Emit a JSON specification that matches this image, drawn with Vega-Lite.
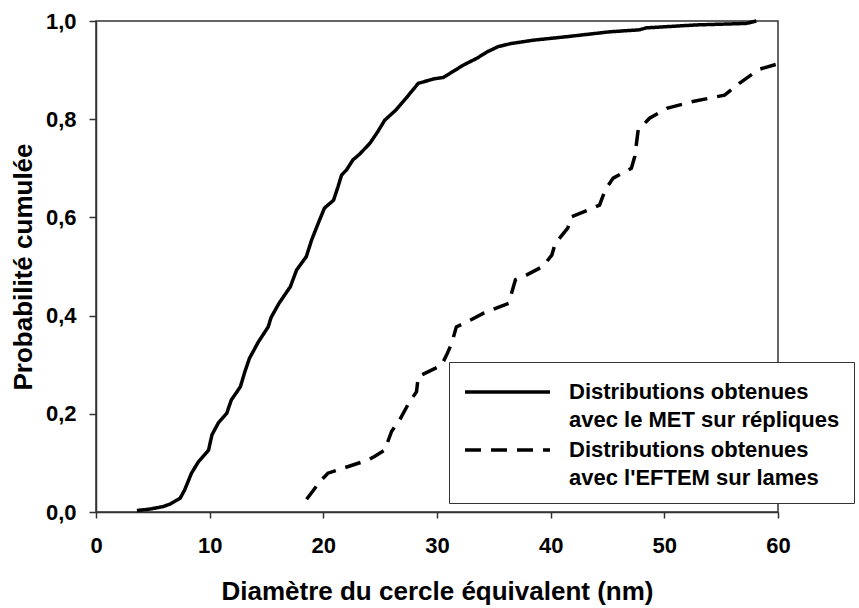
{
  "$schema": "https://vega.github.io/schema/vega-lite/v6.json",
  "width": 682,
  "height": 491,
  "autosize": {"type": "none"},
  "padding": {"left": 96, "top": 21, "right": 81, "bottom": 96},
  "background": "white",
  "config": {
    "font": "Liberation Sans",
    "view": {"stroke": "#333", "strokeWidth": 1.5}
  },
  "data": {
    "values": [
      {"serie": "MET", "x": 3.6, "y": 0.003},
      {"serie": "MET", "x": 4.75, "y": 0.006},
      {"serie": "MET", "x": 5.9, "y": 0.011},
      {"serie": "MET", "x": 6.5, "y": 0.016},
      {"serie": "MET", "x": 7.4, "y": 0.028},
      {"serie": "MET", "x": 7.8, "y": 0.045},
      {"serie": "MET", "x": 8.4, "y": 0.079},
      {"serie": "MET", "x": 9.0, "y": 0.102},
      {"serie": "MET", "x": 9.9, "y": 0.126},
      {"serie": "MET", "x": 10.2, "y": 0.157},
      {"serie": "MET", "x": 10.75, "y": 0.181},
      {"serie": "MET", "x": 11.5, "y": 0.201},
      {"serie": "MET", "x": 11.9, "y": 0.228},
      {"serie": "MET", "x": 12.7, "y": 0.255},
      {"serie": "MET", "x": 13.1, "y": 0.286},
      {"serie": "MET", "x": 13.5, "y": 0.313},
      {"serie": "MET", "x": 14.3, "y": 0.347},
      {"serie": "MET", "x": 15.15, "y": 0.377},
      {"serie": "MET", "x": 15.4, "y": 0.396},
      {"serie": "MET", "x": 16.1, "y": 0.425},
      {"serie": "MET", "x": 17.1, "y": 0.459},
      {"serie": "MET", "x": 17.65, "y": 0.493},
      {"serie": "MET", "x": 18.5, "y": 0.52},
      {"serie": "MET", "x": 18.97, "y": 0.554},
      {"serie": "MET", "x": 19.55, "y": 0.588},
      {"serie": "MET", "x": 20.1, "y": 0.619},
      {"serie": "MET", "x": 20.9, "y": 0.635},
      {"serie": "MET", "x": 21.3, "y": 0.663},
      {"serie": "MET", "x": 21.6, "y": 0.686},
      {"serie": "MET", "x": 22.05, "y": 0.697},
      {"serie": "MET", "x": 22.6, "y": 0.717},
      {"serie": "MET", "x": 23.2, "y": 0.729},
      {"serie": "MET", "x": 24.1, "y": 0.751},
      {"serie": "MET", "x": 24.8, "y": 0.775},
      {"serie": "MET", "x": 25.4, "y": 0.798},
      {"serie": "MET", "x": 26.4, "y": 0.819},
      {"serie": "MET", "x": 27.5, "y": 0.849},
      {"serie": "MET", "x": 28.35, "y": 0.873},
      {"serie": "MET", "x": 29.7, "y": 0.882},
      {"serie": "MET", "x": 30.55, "y": 0.885},
      {"serie": "MET", "x": 31.4, "y": 0.897},
      {"serie": "MET", "x": 32.3, "y": 0.91},
      {"serie": "MET", "x": 33.5, "y": 0.924},
      {"serie": "MET", "x": 34.4, "y": 0.937},
      {"serie": "MET", "x": 35.4, "y": 0.948},
      {"serie": "MET", "x": 36.5, "y": 0.954},
      {"serie": "MET", "x": 38.5, "y": 0.961},
      {"serie": "MET", "x": 41.4, "y": 0.968},
      {"serie": "MET", "x": 45.2, "y": 0.978},
      {"serie": "MET", "x": 47.8, "y": 0.982},
      {"serie": "MET", "x": 48.4, "y": 0.986},
      {"serie": "MET", "x": 52.8, "y": 0.992},
      {"serie": "MET", "x": 57.2, "y": 0.995},
      {"serie": "MET", "x": 58.1, "y": 1.0},
      {"serie": "EFTEM", "x": 18.53, "y": 0.026},
      {"serie": "EFTEM", "x": 19.7, "y": 0.062},
      {"serie": "EFTEM", "x": 20.4, "y": 0.079},
      {"serie": "EFTEM", "x": 23.95, "y": 0.106},
      {"serie": "EFTEM", "x": 24.5, "y": 0.113},
      {"serie": "EFTEM", "x": 25.4, "y": 0.126},
      {"serie": "EFTEM", "x": 26.0, "y": 0.164},
      {"serie": "EFTEM", "x": 26.7, "y": 0.187},
      {"serie": "EFTEM", "x": 27.5, "y": 0.221},
      {"serie": "EFTEM", "x": 28.2, "y": 0.245},
      {"serie": "EFTEM", "x": 28.35, "y": 0.276},
      {"serie": "EFTEM", "x": 29.7, "y": 0.291},
      {"serie": "EFTEM", "x": 30.4, "y": 0.299},
      {"serie": "EFTEM", "x": 30.85, "y": 0.32},
      {"serie": "EFTEM", "x": 31.3, "y": 0.344},
      {"serie": "EFTEM", "x": 31.7, "y": 0.377},
      {"serie": "EFTEM", "x": 32.7, "y": 0.388},
      {"serie": "EFTEM", "x": 34.1, "y": 0.405},
      {"serie": "EFTEM", "x": 35.5, "y": 0.418},
      {"serie": "EFTEM", "x": 36.3, "y": 0.425},
      {"serie": "EFTEM", "x": 36.9, "y": 0.473},
      {"serie": "EFTEM", "x": 37.9, "y": 0.483},
      {"serie": "EFTEM", "x": 39.3, "y": 0.5},
      {"serie": "EFTEM", "x": 40.1, "y": 0.523},
      {"serie": "EFTEM", "x": 40.4, "y": 0.547},
      {"serie": "EFTEM", "x": 41.5, "y": 0.578},
      {"serie": "EFTEM", "x": 41.8, "y": 0.601},
      {"serie": "EFTEM", "x": 43.3, "y": 0.615},
      {"serie": "EFTEM", "x": 44.3, "y": 0.625},
      {"serie": "EFTEM", "x": 44.8, "y": 0.656},
      {"serie": "EFTEM", "x": 45.5, "y": 0.68},
      {"serie": "EFTEM", "x": 47.1, "y": 0.7},
      {"serie": "EFTEM", "x": 47.4, "y": 0.724},
      {"serie": "EFTEM", "x": 47.7, "y": 0.778},
      {"serie": "EFTEM", "x": 48.7, "y": 0.802},
      {"serie": "EFTEM", "x": 50.2, "y": 0.822},
      {"serie": "EFTEM", "x": 52.5, "y": 0.836},
      {"serie": "EFTEM", "x": 55.3, "y": 0.849},
      {"serie": "EFTEM", "x": 56.6, "y": 0.873},
      {"serie": "EFTEM", "x": 57.8, "y": 0.893},
      {"serie": "EFTEM", "x": 58.4, "y": 0.902},
      {"serie": "EFTEM", "x": 59.9, "y": 0.912}
    ]
  },
  "mark": {"type": "line", "color": "black", "strokeWidth": 3.5, "clip": false},
  "encoding": {
    "x": {
      "field": "x",
      "type": "quantitative",
      "scale": {"domain": [0, 60], "nice": false, "zero": false},
      "axis": {
        "values": [0, 10, 20, 30, 40, 50, 60],
        "grid": false,
        "domainColor": "#333",
        "domainWidth": 1.5,
        "tickColor": "#333",
        "tickWidth": 1.5,
        "tickSize": 6,
        "labelFontSize": 22,
        "labelFontWeight": "bold",
        "labelColor": "black",
        "labelPadding": 17,
        "labelFlush": false,
        "labelOverlap": false,
        "title": "Diamètre du cercle équivalent (nm)",
        "titleFontSize": 26,
        "titleFontWeight": "bold",
        "titleColor": "black",
        "titlePadding": 22
      }
    },
    "y": {
      "field": "y",
      "type": "quantitative",
      "scale": {"domain": [0, 1], "nice": false},
      "axis": {
        "values": [0, 0.2, 0.4, 0.6, 0.8, 1.0],
        "grid": false,
        "domainColor": "#333",
        "domainWidth": 1.5,
        "tickColor": "#333",
        "tickWidth": 1.5,
        "tickSize": 7,
        "labelFontSize": 22,
        "labelFontWeight": "bold",
        "labelColor": "black",
        "labelPadding": 13,
        "labelFlush": false,
        "labelOverlap": false,
        "labelExpr": "replace(format(datum.value, '.1f'), '.', ',')",
        "title": "Probabilité cumulée",
        "titleFontSize": 26,
        "titleFontWeight": "bold",
        "titleColor": "black",
        "titlePadding": 9
      }
    },
    "strokeDash": {
      "field": "serie",
      "type": "nominal",
      "scale": {"domain": ["MET", "EFTEM"], "range": [[1, 0], [16, 10]]},
      "legend": {
        "orient": "none",
        "legendX": 353,
        "legendY": 341,
        "title": null,
        "direction": "vertical",
        "strokeColor": "#333",
        "fillColor": "white",
        "padding": 14,
        "labelFont": "Liberation Sans",
        "labelFontSize": 22,
        "labelFontWeight": "bold",
        "labelColor": "black",
        "labelLimit": 0,
        "labelOffset": 17,
        "labelBaseline": "middle",
        "symbolType": "stroke",
        "symbolSize": 7225,
        "symbolStrokeWidth": 3.5,
        "symbolStrokeColor": "black",
        "rowPadding": 3,
        "labelExpr": "datum.label == 'MET' ? ['Distributions obtenues', 'avec le MET sur répliques'] : ['Distributions obtenues', 'avec l\\'EFTEM sur lames']",
        "encode": {
          "labels": {"update": {"lineHeight": {"value": 28}, "y": {"value": 16}}},
          "symbols": {"update": {"y": {"value": 16}}}
        }
      }
    }
  }
}
